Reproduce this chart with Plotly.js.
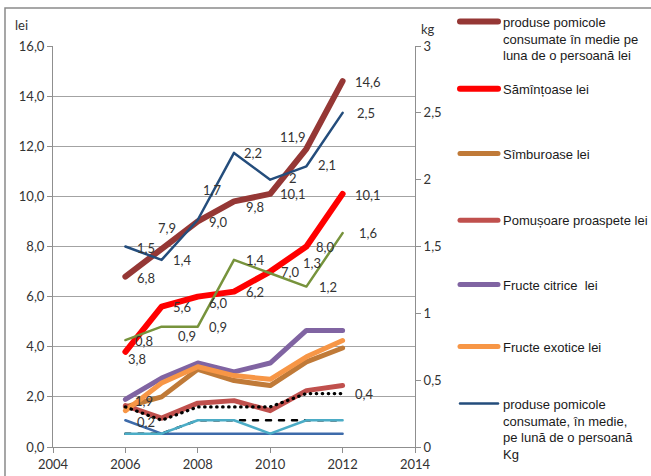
<!DOCTYPE html>
<html>
<head>
<meta charset="utf-8">
<script src="https://cdn.plot.ly/plotly-3.0.1.min.js"></script>
<style>
  html, body { margin: 0; padding: 0; background: #fff; }
  #chart { width: 651px; height: 476px; }
  .js-line { stroke-linejoin: round; stroke-linecap: round; }
</style>
</head>
<body>
<div id="chart"></div>
<script>
// Years on the horizontal axis
const years = [2006, 2007, 2008, 2009, 2010, 2011, 2012];

// Monthly spending per person, lei (left axis)
const totalLei      = [6.8, 7.9, 9.0, 9.8, 10.1, 11.9, 14.6];
const samintoaseLei = [3.8, 5.6, 6.0, 6.2, 7.0, 8.0, 10.1];
const simburoaseLei = [1.6, 2.0, 3.1, 2.65, 2.45, 3.4, 3.95];
const pomusoareLei  = [1.65, 1.15, 1.75, 1.85, 1.45, 2.25, 2.45];
const citriceLei    = [1.9, 2.75, 3.35, 3.0, 3.35, 4.65, 4.65];
const exoticeLei    = [1.45, 2.55, 3.2, 2.85, 2.7, 3.6, 4.25];

// Monthly quantities per person, kg (right axis)
const totalKg     = [1.5, 1.4, 1.7, 2.2, 2.0, 2.1, 2.5];
const greenKg     = [0.8, 0.9, 0.9, 1.4, 1.3, 1.2, 1.6];
const dottedKg    = [0.3, 0.2, 0.3, 0.3, 0.3, 0.4, 0.4];
const darkBlueKg  = [0.2, 0.1, 0.1, 0.1, 0.1, 0.1, 0.1];
const lightBlueKg = [0.1, 0.1, 0.2, 0.2, 0.1, 0.2, 0.2];
const dashedKg    = [0.1, 0.1, 0.2, 0.2, 0.2, 0.2, 0.2];

// Legend texts
const names = [
  'produse pomicole<br>consumate în medie pe<br>luna de o persoană lei',
  'Sămînțoase lei',
  'Sîmburoase lei',
  'Pomușoare proaspete lei',
  'Fructe citrice  lei',
  'Fructe exotice lei',
  'produse pomicole<br>consumate, în medie,<br>pe lună de o persoană<br>Kg'
];

const legendFont = { family: 'Liberation Sans, Arial, sans-serif', size: 13, color: '#1a1a1a' };
const labelFont = { family: 'Lato, sans-serif', size: 13, color: '#333' };

function line(y, color, width, axis, extra) {
  return Object.assign({
    x: years, y: y, type: 'scatter', mode: 'lines',
    yaxis: axis, hoverinfo: 'skip',
    line: { color: color, width: width }
  }, extra || {});
}

const traces = [
  line(totalLei,      '#953735', 6, 'y',  { name: names[0], legend: 'legend' }),
  line(samintoaseLei, '#FF0000', 6, 'y',  { name: names[1], legend: 'legend2' }),
  line(simburoaseLei, '#C07A38', 5, 'y',  { name: names[2], legend: 'legend3' }),
  line(pomusoareLei,  '#C0504D', 5, 'y',  { name: names[3], legend: 'legend4' }),
  line(citriceLei,    '#8064A2', 5, 'y',  { name: names[4], legend: 'legend5' }),
  line(exoticeLei,    '#F79646', 5, 'y',  { name: names[5], legend: 'legend6' }),
  line(totalKg,       '#244D7C', 2.5, 'y2', { name: names[6], legend: 'legend7' }),
  line(greenKg,       '#77933C', 2.5, 'y2', { showlegend: false }),
  line(darkBlueKg,    '#3E6BAA', 2.5, 'y2', { showlegend: false }),
  line(dashedKg,      '#000000', 2.5, 'y2', { showlegend: false }),
  line(lightBlueKg,   '#4BACC6', 2.5, 'y2', { showlegend: false }),
];
traces[9].line.dash = '5px,8px';
const dotted = line(dottedKg, '#000000', 3.2, 'y2', { showlegend: false });
dotted.line.dash = '0.5px,5.5px';
traces.push(dotted);

// Value labels: pixel offsets from each point (null = no label)
const fmtLei = v => v.toFixed(1).replace('.', ',');
const fmtKg = v => String(v).replace('.', ',');
const labelSets = [
  { v: totalLei,      ref: 'y',  f: fmtLei, dx: [21, 5, 20, 21, 23, -13, 25], dy: [1, -21, 1, 6, 0, -12, 1] },
  { v: samintoaseLei, ref: 'y',  f: fmtLei, dx: [12, 20, 20, 21, 20, 19, 25], dy: [7, 0, 6, 0, 0, 0, 1] },
  { v: totalKg,       ref: 'y2', f: fmtKg,  dx: [21, 20, 14, 19, 23, 21, 23], dy: [1, 0, -30, 0, -2, -1, 0] },
  { v: greenKg,       ref: 'y2', f: fmtKg,  dx: [19, 25, 20, 21, 42, 22, 25], dy: [1, 9, 0, 0, -10, 0, 0] },
  { v: citriceLei,    ref: 'y',  f: fmtLei, dx: [19, null, null, null, null, null, null], dy: [2, 0, 0, 0, 0, 0, 0] },
  { v: darkBlueKg,    ref: 'y2', f: fmtKg,  dx: [21, null, null, null, null, null, null], dy: [2, 0, 0, 0, 0, 0, 0] },
  { v: dottedKg,      ref: 'y2', f: fmtKg,  dx: [null, null, null, null, null, null, 21], dy: [0, 0, 0, 0, 0, 0, 0] },
];

const annotations = [];
labelSets.forEach(s => {
  s.v.forEach((val, i) => {
    if (s.dx[i] === null) return;
    annotations.push({
      x: years[i], y: val, xref: 'x', yref: s.ref,
      text: s.f(val), showarrow: false, font: labelFont,
      xanchor: 'center', yanchor: 'middle',
      xshift: s.dx[i], yshift: -s.dy[i]
    });
  });
});

// Axis unit captions
annotations.push({ text: 'lei', xref: 'paper', yref: 'paper', x: -0.088, y: 1.052,
  showarrow: false, font: labelFont, xanchor: 'center', yanchor: 'middle' });
annotations.push({ text: 'kg', xref: 'paper', yref: 'paper', x: 1.036, y: 1.042,
  showarrow: false, font: labelFont, xanchor: 'center', yanchor: 'middle' });

// One small legend per series, stacked down the right side
const legendTops = [1.0983, 0.9307, 0.7691, 0.6030, 0.4424, 0.2878, 0.1456];
const legends = {};
legendTops.forEach((top, i) => {
  legends[i === 0 ? 'legend' : 'legend' + (i + 1)] = {
    x: 1.1105, y: top, xanchor: 'left', yanchor: 'top',
    font: legendFont, bgcolor: 'rgba(0,0,0,0)', valign: 'top',
    itemwidth: 38, borderwidth: 0
  };
});

const axisCommon = {
  showline: true, linecolor: '#8f8f8f', linewidth: 1,
  ticks: 'outside', ticklen: 5, tickcolor: '#8f8f8f', tickwidth: 1,
  zeroline: false, fixedrange: true,
  tickfont: { family: 'Lato, sans-serif', size: 13, color: '#333' }
};

const layout = Object.assign({
  width: 651, height: 476,
  margin: { l: 53, r: 236, t: 46, b: 29, pad: 0, autoexpand: false },
  paper_bgcolor: '#fff', plot_bgcolor: '#fff',
  separators: ',.',
  showlegend: true,
  xaxis: Object.assign({}, axisCommon, { range: [2004, 2014], dtick: 2, tick0: 2004, showgrid: false }),
  yaxis: Object.assign({}, axisCommon, { range: [0, 16], dtick: 2, tickformat: '.1f',
    showgrid: true, gridcolor: '#a3a3a3', gridwidth: 1 }),
  yaxis2: Object.assign({}, axisCommon, { range: [0, 3], dtick: 0.5, overlaying: 'y', side: 'right',
    showgrid: false }),
  annotations: annotations,
  shapes: [{
    type: 'rect', xref: 'paper', yref: 'paper',
    x0: -0.1326, x1: 1.70, y0: -0.12, y1: 1.0948,
    line: { color: '#8a8a8a', width: 1.5 }, fillcolor: 'rgba(0,0,0,0)', layer: 'below'
  }]
}, legends);

Plotly.newPlot('chart', traces, layout, { displayModeBar: false, staticPlot: true });
</script>
</body>
</html>
